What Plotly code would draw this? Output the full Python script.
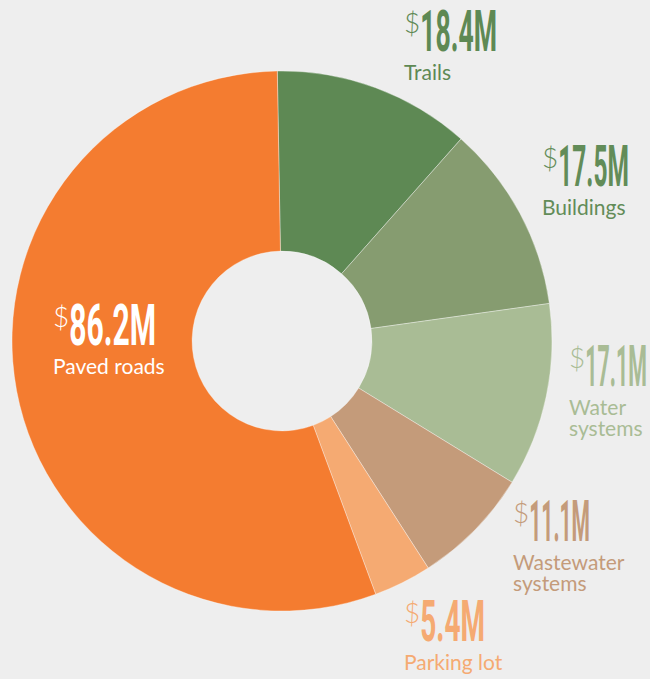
import plotly.graph_objects as go

# ---- data ----
categories = ["Trails", "Buildings", "Water systems", "Wastewater systems", "Parking lot", "Paved roads"]
values = [18.4, 17.5, 17.1, 11.1, 5.4, 86.2]
label_lines = [["Trails"], ["Buildings"], ["Water", "systems"], ["Wastewater", "systems"], ["Parking lot"], ["Paved roads"]]

# ---- styles / layout ----
slice_colors = ["#5e8954", "#869c70", "#a9bc95", "#c49b7a", "#f5aa72", "#f47c30"]
text_colors = ["#5e8954", "#628c58", "#a9bc95", "#c49b7a", "#f5aa72", "#ffffff"]
# (left x px, baseline of first label line px) in the 650x679 canvas
anchors = [(403, 81), (541, 216), (568, 416), (512, 571), (403, 671), (52, 375)]
# right edge (px) of each big figure (the original uses a condensed display face)
num_right = [497, 629, 647, 590, 485, 156]

W, H = 650, 679
BG = "#eeeeee"
NUM_FONT = "Roboto, Lato, sans-serif"
LBL_FONT = "Lato, Open Sans, sans-serif"
NUM_SIZE = 57
NUM_DESC = 0.244
LBL_SIZE = 21
LBL_DESC = 0.213
LINE_GAP = 21
NUM_GAP = 29

cx, cy, r = 282, 341, 270

fig = go.Figure(go.Pie(
    labels=categories,
    values=values,
    sort=False,
    direction="clockwise",
    rotation=-1,
    hole=0.333,
    marker=dict(colors=slice_colors, line=dict(color="rgba(255,255,255,0.35)", width=1)),
    textinfo="none",
    hoverinfo="label+value",
    showlegend=False,
    domain=dict(x=[(cx - r) / W, (cx + r) / W], y=[1 - (cy + r) / H, 1 - (cy - r) / H]),
))

ann = []
for cat, v, lines, col, (ax, bl0) in zip(categories, values, label_lines, text_colors, anchors):
    dollar = "<span style='font-family:Lato;font-weight:300;font-size:28px;baseline-shift:18px'>$</span>"
    num_text = f"{dollar}<b>{v}M</b>"
    nb = bl0 - NUM_GAP
    ann.append(dict(
        text=num_text, x=(ax - 1) / W, y=1 - (nb + NUM_DESC * NUM_SIZE + 1) / H,
        xref="paper", yref="paper", xanchor="left", yanchor="bottom",
        showarrow=False, align="left",
        font=dict(family=NUM_FONT, size=NUM_SIZE, color=col),
    ))
    for i, line in enumerate(lines):
        bl = bl0 + i * LINE_GAP
        ann.append(dict(
            text=line, x=(ax - 1) / W, y=1 - (bl + LBL_DESC * LBL_SIZE + 1) / H,
            xref="paper", yref="paper", xanchor="left", yanchor="bottom",
            showarrow=False, align="left",
            font=dict(family=LBL_FONT, size=LBL_SIZE, color=col),
        ))

fig.update_layout(
    width=W, height=H,
    margin=dict(l=0, r=0, t=0, b=0),
    paper_bgcolor=BG, plot_bgcolor=BG,
    annotations=ann,
)

# squeeze only the figure digits (not the $) to the condensed width of the original
post = """
var gd = document.getElementById('{plot_id}');
var rights = %s;
var k = 0;
gd.querySelectorAll('text.annotation-text').forEach(function(t){
  if (t.textContent.charAt(0) === '$') {
    var spans = t.querySelectorAll('tspan');
    var num = spans[spans.length - 1];
    var svgRect = gd.querySelector('svg.main-svg').getBoundingClientRect();
    var x0 = num.getStartPositionOfChar(0).x;
    var ctm = num.getScreenCTM();
    var px = x0 * ctm.a + ctm.e - svgRect.left;
    var target = rights[k] - px;
    if (target > 10) {
      num.setAttribute('textLength', target);
      num.setAttribute('lengthAdjust', 'spacingAndGlyphs');
    }
    k += 1;
  }
});
""" % str(num_right)

fig.write_html("out.html", post_script=post)
